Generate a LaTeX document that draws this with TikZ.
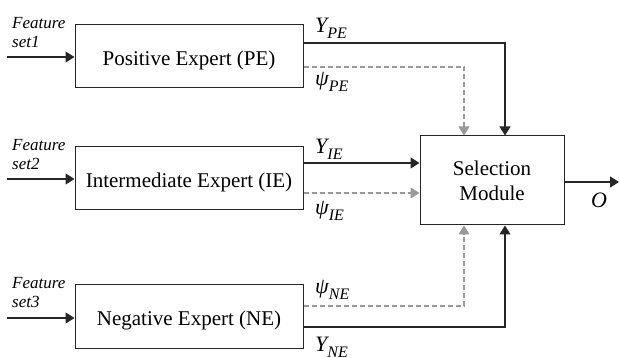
\documentclass[tikz,border=0pt]{standalone}
\usepackage{fontspec}
\setmainfont{Liberation Serif}
\usetikzlibrary{arrows.meta}
\newcommand\sublab[2]{{\fontsize{22}{24}\selectfont\itshape #1}\raisebox{-6pt}{\fontsize{16}{18}\selectfont\itshape #2}}
\begin{document}
\begin{tikzpicture}[x=1pt,y=-1pt,
  box/.style={draw=black!85, line width=1pt, inner sep=0pt, minimum width=228pt, minimum height=63pt, text height=19pt, text depth=0pt, font=\fontsize{21}{24}\selectfont},
  selbox/.style={draw=black!85, line width=1pt, inner sep=0pt, minimum width=144pt, minimum height=89pt, align=center, font=\fontsize{21}{25}\selectfont},
  feat/.style={inner sep=0pt, anchor=base west, align=left, font=\fontsize{17}{19}\selectfont\itshape},
  lab/.style={inner sep=0pt, anchor=base west},
  solidarr/.style={draw=black!85, line width=1.2pt, -{Triangle[length=9pt,width=11pt]}},
  dasharr/.style={draw=black!40, line width=1.1pt, dash pattern=on 5pt off 3pt, -{Triangle[length=9pt,width=11pt,fill=black!40]}}
]
\useasboundingbox (0,0) rectangle (619,358);

\node[box] (PE) at (189,56) {Positive Expert (PE)};
\node[box] (IE) at (189,178.5) {Intermediate Expert (IE)};
\node[box] (NE) at (189,316.5) {Negative Expert (NE)};
\node[selbox] (SM) at (492,180.5) {Selection\\Module};

% inputs
\coordinate (in1) at (7,57);
\coordinate (in2) at (7,179);
\coordinate (in3) at (7,318);
\draw[solidarr] (in1) -- (PE.west |- in1);
\draw[solidarr] (in2) -- (IE.west |- in2);
\draw[solidarr] (in3) -- (NE.west |- in3);

\node[feat] (f1) at (12,48) {Feature\\set1};
\node[feat] (f2) at (12,170) {Feature\\set2};
\node[feat] (f3) at (12,308) {Feature\\set3};

% outputs of experts
\coordinate (yie) at ([yshift=15.5pt]IE.east);
\coordinate (pie) at ([yshift=-14.5pt]IE.east);
\draw[solidarr] ([yshift=13pt]PE.east) -| ([xshift=13pt]SM.north);
\draw[dasharr] ([yshift=-11pt]PE.east) -| ([xshift=-28pt]SM.north);
\draw[solidarr] (yie) -- (SM.west |- yie);
\draw[dasharr] (pie) -- (SM.west |- pie);
\draw[dasharr] ([yshift=10.5pt]NE.east) -| ([xshift=-28pt]SM.south);
\draw[solidarr] ([yshift=-10.5pt]NE.east) -| ([xshift=13pt]SM.south);

\coordinate (out) at (619,182);
\draw[solidarr] (SM.east |- out) -- (out);

\node[lab] (lYPE) at (315,33) {\sublab{Y}{PE}};
\node[lab] (lPPE) at (315,86) {\sublab{ψ}{PE}};
\node[lab] (lYIE) at (315,154) {\sublab{Y}{IE}};
\node[lab] (lPIE) at (315,215) {\sublab{ψ}{IE}};
\node[lab] (lPNE) at (315,294) {\sublab{ψ}{NE}};
\node[lab] (lYNE) at (315,352) {\sublab{Y}{NE}};
\node[lab] (lO) at (591,208) {\fontsize{22}{24}\selectfont\itshape O};
\end{tikzpicture}
\end{document}
